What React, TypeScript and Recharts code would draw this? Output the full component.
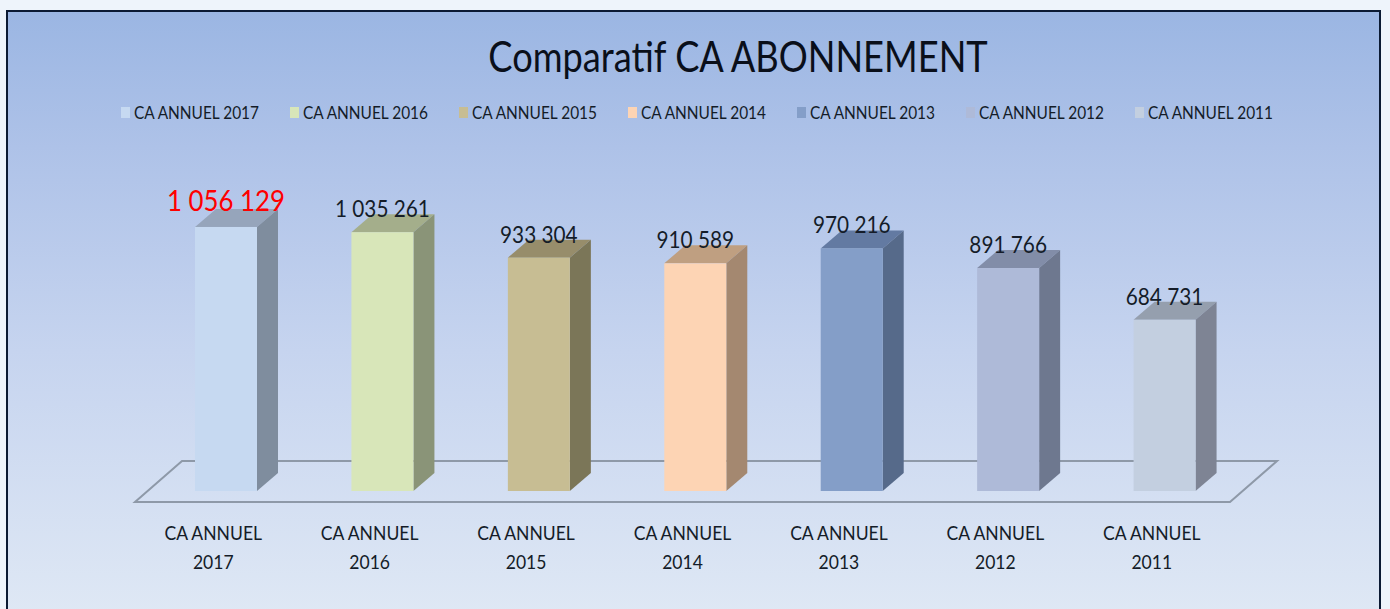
import { Bar, BarChart, Customized, LabelList, XAxis, YAxis, usePlotArea } from "recharts";

const categories = [
  "CA ANNUEL 2017",
  "CA ANNUEL 2016",
  "CA ANNUEL 2015",
  "CA ANNUEL 2014",
  "CA ANNUEL 2013",
  "CA ANNUEL 2012",
  "CA ANNUEL 2011",
];
const values = [1056129, 1035261, 933304, 910589, 970216, 891766, 684731];

const frontColors = ["#c6d9f1", "#d8e6b9", "#c7bd93", "#fdd4b4", "#849ec8", "#aebad8", "#c3cfe0"];
const sideColors = ["#7f8d9e", "#8a9478", "#7b7658", "#a48870", "#566a8a", "#6e788f", "#7e8494"];
const topColors = ["#96a5bb", "#a4ae8b", "#978d6b", "#bf9f81", "#637aa2", "#828da8", "#959fae"];

const data = categories.map((name, i) => ({ name, value: values[i] }));

const FONT = "Lato, sans-serif";
const TEXT = "#141c28";
const SHIFT = 13; // bars sit right of their axis slot, the 3d depth pushes them
const DX = 21;
const DY = 18;

const fmt = (v: number) => String(v).replace(/\B(?=(\d{3})+$)/g, " ");

const Box = (props: any) => {
  const { x, y, width, height, index } = props;
  const l = x + SHIFT;
  const r = l + width;
  const b = y + height;
  return (
    <g>
      <polygon points={`${l},${y} ${r},${y} ${r + DX},${y - DY} ${l + DX},${y - DY}`} fill={topColors[index]} />
      <polygon points={`${r},${y} ${r + DX},${y - DY} ${r + DX},${b - DY} ${r},${b}`} fill={sideColors[index]} />
      <rect x={l} y={y} width={width} height={height} fill={frontColors[index]} />
    </g>
  );
};

const Floor = () => {
  const area = usePlotArea();
  if (!area) return null;
  const left = area.x;
  const right = area.x + area.width;
  const base = area.y + area.height;
  return (
    <polygon
      points={`${left},${base + 11} ${right},${base + 11} ${right + 47},${base - 30} ${left + 47},${base - 30}`}
      fill="none"
      stroke="#8e99a8"
      strokeWidth={2}
    />
  );
};

// Lato is wider than the original face, so the text is squeezed a bit
const ValueLabel = (props: any) => {
  const { x, y, width, value, index } = props;
  const first = index === 0;
  return (
    <text
      transform={`translate(${x + width / 2 + SHIFT},${first ? y - 16 : y - 15}) scale(${first ? 0.89 : 0.866},1)`}
      textAnchor="middle"
      fontFamily={FONT}
      fontSize={first ? 29 : 24}
      fill={first ? "#ff0000" : TEXT}
    >
      {fmt(value)}
    </text>
  );
};

const Tick = (props: any) => {
  const { x, payload } = props;
  const parts = String(payload.value).split(" ");
  const year = parts.pop();
  return (
    <g fontFamily={FONT} fontSize={20} fill={TEXT} textAnchor="middle">
      <text transform={`translate(${x},540) scale(0.878,1)`}>{parts.join(" ")}</text>
      <text transform={`translate(${x},569) scale(0.878,1)`}>{year}</text>
    </g>
  );
};

const LegendRow = () => (
  <div style={{ position: "absolute", left: 121, top: 101, display: "flex", fontFamily: FONT, fontSize: 18, color: TEXT }}>
    {categories.map((c, i) => (
      <div key={c} style={{ width: 169, display: "flex", alignItems: "center", height: 22, whiteSpace: "nowrap" }}>
        <span style={{ width: 9, height: 11, background: frontColors[i], marginRight: 4 }} />
        <span style={{ display: "inline-block", transform: "scaleX(0.856)", transformOrigin: "left center" }}>{c}</span>
      </div>
    ))}
  </div>
);

export default function App() {
  return (
    <div style={{ position: "absolute", left: 0, top: 0, width: 1390, height: 609, overflow: "hidden", background: "#eef4fb" }}>
      <div
        style={{
          position: "absolute",
          left: 6,
          top: 10,
          width: 1375,
          height: 620,
          boxSizing: "border-box",
          border: "2px solid #0b1a33",
          background: "linear-gradient(180deg, #9bb6e3 0%, #aec2e8 22%, #c6d4ef 55%, #e0e9f5 100%)",
        }}
      />
      <div
        style={{
          position: "absolute",
          left: 0,
          width: 1476,
          top: 29,
          textAlign: "center",
          fontFamily: FONT,
          fontSize: 43,
          lineHeight: "54px",
          color: "#0a0f1a",
          transform: "scaleX(0.843)",
        }}
      >
        Comparatif CA ABONNEMENT
      </div>
      <LegendRow />
      <div style={{ position: "absolute", left: 0, top: 0 }}>
        <BarChart width={1390} height={609} data={data} margin={{ top: 191, right: 160, bottom: 18, left: 135 }} barSize={62}>
          <Customized component={Floor} />
          <XAxis dataKey="name" height={100} axisLine={false} tickLine={false} interval={0} tick={<Tick />} />
          <YAxis hide domain={[0, 1200000]} />
          <Bar dataKey="value" shape={<Box />} isAnimationActive={false}>
            <LabelList dataKey="value" content={<ValueLabel />} />
          </Bar>
        </BarChart>
      </div>
    </div>
  );
}
